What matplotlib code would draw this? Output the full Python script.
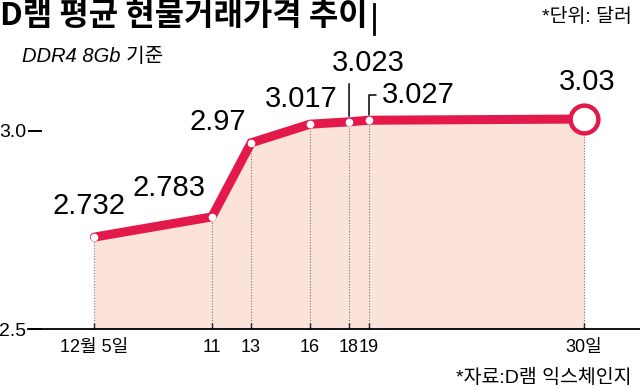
import matplotlib
matplotlib.use('Agg')
import matplotlib.pyplot as plt
from matplotlib.lines import Line2D

# data: DRAM spot price (DDR4 8Gb), USD
days = [5, 11, 13, 16, 18, 19, 30]
day_labels = ['12월 5일', '11', '13', '16', '18', '19', '30일']
prices = [2.732, 2.783, 2.97, 3.017, 3.023, 3.027, 3.03]
price_labels = ['2.732', '2.783', '2.97', '3.017', '3.023', '3.027', '3.03']

RED = '#E2194A'
FILL = '#FCE3D9'

plt.rcParams['font.family'] = ['Liberation Sans', 'Noto Sans CJK KR']

fig = plt.figure(figsize=(6.4, 3.9), dpi=100)
ax = fig.add_axes([28 / 640, 61 / 390, 612 / 640, 309 / 390])
ax.set_xlim(1.612, 32.85)
ax.set_ylim(2.5, 3.28)

# shaded area + dotted drop lines
ax.fill_between(days, prices, 2.5, color=FILL, lw=0, zorder=1)
ax.vlines(days, 2.5, prices, colors='#777777', linestyles=(0, (1, 1.5)), lw=0.8, zorder=2)

# the price line
ax.plot(days, prices, color=RED, lw=6.5, solid_joinstyle='miter', solid_capstyle='round', zorder=3)
ax.plot(days[:-1], prices[:-1], 'o', ms=5.5, mfc='white', mec='none', zorder=4)
ax.plot(days[-1:], prices[-1:], 'o', ms=20, mfc='white', mec=RED, mew=3.2, zorder=4)

# value labels (offsets in pixels from each point)
offsets = [(-5, 31), (-43, 29), (-33, 21), (-9, 25), (19, 59), (13, 25), (3, 37)]
for i, (d, p, lab) in enumerate(zip(days, prices, price_labels)):
    dx, dy = offsets[i]
    if i == 5:
        ax.annotate(lab, xy=(d, p), xytext=(dx, dy), textcoords='offset pixels',
                    ha='left', va='center', fontsize=21,
                    arrowprops=dict(arrowstyle='-', lw=1.1, color='black', relpos=(0, 0.5),
                                    connectionstyle='angle,angleA=0,angleB=90,rad=0',
                                    shrinkA=2, shrinkB=4))
    else:
        ax.annotate(lab, xy=(d, p), xytext=(dx, dy), textcoords='offset pixels',
                    ha='center', va='center', fontsize=21)
    if i == 4:
        ax.annotate('', xy=(d, p), xytext=(0, 38), textcoords='offset pixels',
                    arrowprops=dict(arrowstyle='-', lw=1.1, color='black', shrinkA=0, shrinkB=4))

# axes styling
for s in ['top', 'right', 'left']:
    ax.spines[s].set_visible(False)
ax.spines['bottom'].set_linewidth(1.3)
ax.set_xticks(days, day_labels)
ax.tick_params(axis='x', direction='in', length=4.5, width=1, pad=7, labelsize=13)
ax.set_yticks([2.5, 3.0], ['2.5', '3.0'])
ax.tick_params(axis='y', direction='in', length=10, width=1.4, pad=1, labelsize=14)

# titles and notes
fig.text(0.0, 1 - 0 / 390, 'D램 평균 현물거래가격 추이', fontsize=23, fontweight='bold',
         va='top', ha='left', family=['Noto Sans CJK KR'])
fig.add_artist(Line2D([374 / 640, 374 / 640], [1 - 4 / 390, 1 - 34 / 390], color='black', lw=2))
fig.text(632 / 640, 1 - 17 / 390, '*단위: 달러', fontsize=14, ha='right', va='center')
fig.text(22 / 640, 1 - 57 / 390, 'DDR4 8Gb 기준', fontsize=14.5, style='italic', ha='left', va='center')
fig.text(632 / 640, 1 - 378 / 390, '*자료:D램 익스체인지', fontsize=14, ha='right', va='center')

fig.savefig('out.png', dpi=100)
